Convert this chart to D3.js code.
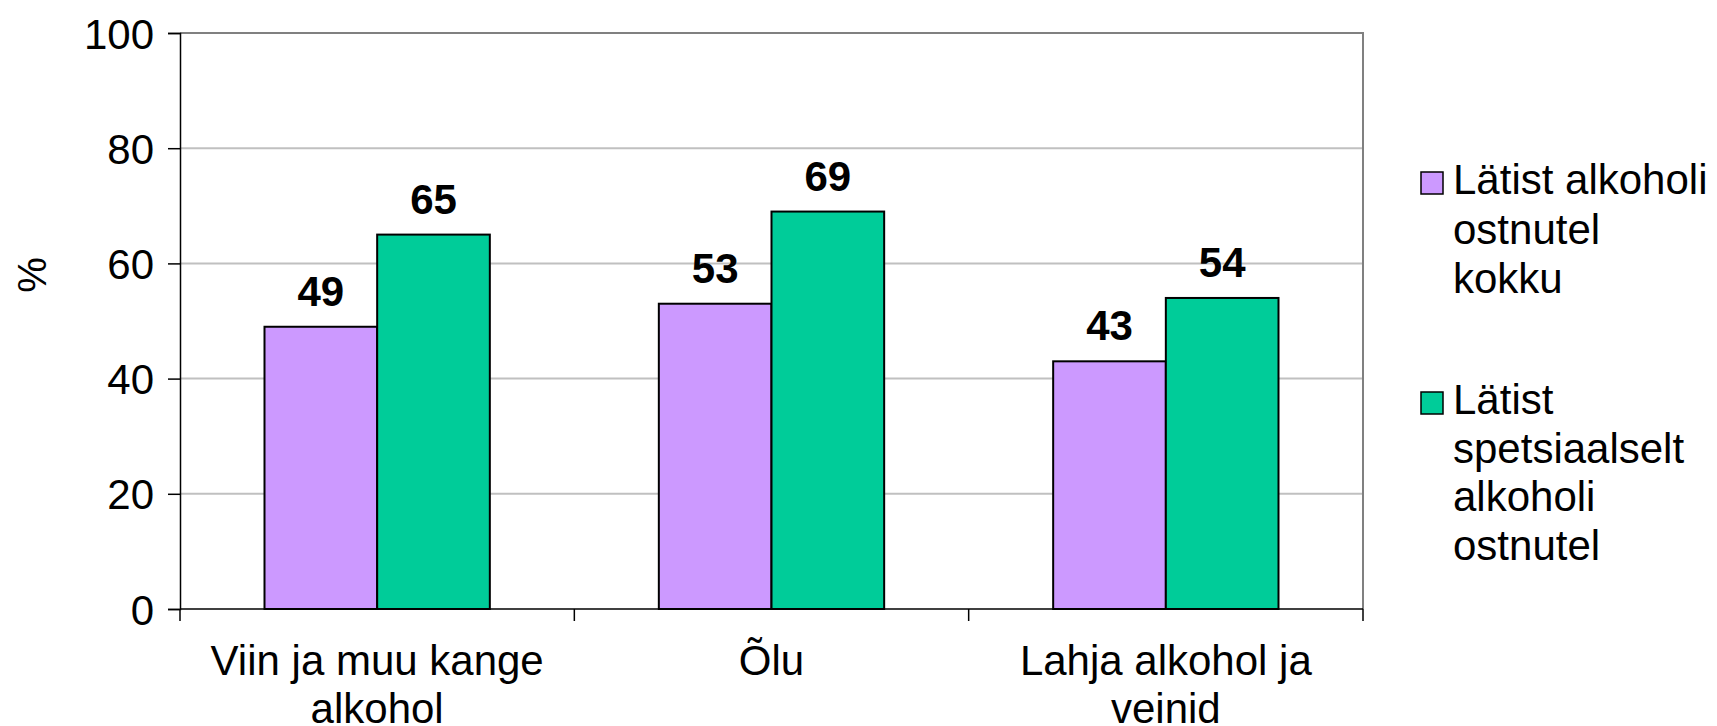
<!DOCTYPE html>
<html>
<head>
<meta charset="utf-8">
<script src="https://cdn.jsdelivr.net/npm/d3@7"></script>
<style>
  html, body { margin: 0; padding: 0; background: #fff; }
  svg { display: block; font-family: "Liberation Sans", Arial, sans-serif; }
</style>
</head>
<body>
<svg id="chart" width="1717" height="726"></svg>
<script>
const categories = [["Viin ja muu kange", "alkohol"], ["Õlu"], ["Lahja alkohol ja", "veinid"]];
const seriesNames = [["Lätist alkoholi", "ostnutel", "kokku"], ["Lätist", "spetsiaalselt", "alkoholi", "ostnutel"]];
const seriesTotal = [49, 53, 43];
const seriesSpecial = [65, 69, 54];
const seriesColors = ["#cc99ff", "#00cc99"];
const yTicks = [0, 20, 40, 60, 80, 100];
const yTitle = "%";

(function () {
const svg = d3.select("#chart");
const plotLeft = 180, plotRight = 1363, plotTop = 33, plotBottom = 609;
const fontSize = 42;

const x = d3.scaleBand().domain(d3.range(categories.length)).range([plotLeft, plotRight]).paddingInner(0).paddingOuter(0);
const y = d3.scaleLinear().domain([0, 100]).range([plotBottom, plotTop]);
const bandW = x.bandwidth();
const barW = bandW / 3.5; // gap width 150%
const x1 = d3.scaleBand().domain([0, 1]).range([0, barW * 2]);

// gridlines
svg.append("g").selectAll("line").data(yTicks.filter(d => d > 0 && d < 100)).join("line")
  .attr("x1", plotLeft).attr("x2", plotRight).attr("y1", d => y(d)).attr("y2", d => y(d))
  .attr("stroke", "#c0c0c0").attr("stroke-width", 2);

// plot border (top & right)
svg.append("path")
  .attr("d", `M${plotLeft},${y(100)}H${plotRight}V${plotBottom}`)
  .attr("fill", "none").attr("stroke", "#808080").attr("stroke-width", 2);

// y axis
const yAxis = d3.axisLeft(y).tickValues(yTicks).tickSize(12).tickPadding(14).tickFormat(d3.format("d"));
const gy = svg.append("g").attr("transform", `translate(${plotLeft},0)`).call(yAxis);
gy.select(".domain").attr("stroke", "#000").attr("stroke-width", 1.5);
gy.selectAll(".tick line").attr("stroke", "#000").attr("stroke-width", 1.5);
gy.selectAll(".tick text").attr("font-size", fontSize).attr("fill", "#000")
  .attr("font-family", "Liberation Sans, Arial, sans-serif").attr("dy", "0.36em");

// bars
const data = categories.map((c, i) => [seriesTotal[i], seriesSpecial[i]]);
const groups = svg.append("g").selectAll("g").data(data).join("g")
  .attr("transform", (d, i) => `translate(${x(i) + (bandW - barW * 2) / 2},0)`);
groups.selectAll("rect").data(d => d.map((v, s) => ({v, s}))).join("rect")
  .attr("x", d => x1(d.s)).attr("width", barW)
  .attr("y", d => y(d.v)).attr("height", d => y(0) - y(d.v))
  .attr("fill", d => seriesColors[d.s]).attr("stroke", "#000").attr("stroke-width", 2);
groups.selectAll("text").data(d => d.map((v, s) => ({v, s}))).join("text")
  .attr("x", d => x1(d.s) + barW / 2).attr("y", d => y(d.v) - 21)
  .attr("text-anchor", "middle").attr("font-size", fontSize).attr("font-weight", "bold")
  .text(d => d.v);

// x axis
svg.append("line").attr("x1", plotLeft).attr("x2", plotRight).attr("y1", plotBottom).attr("y2", plotBottom)
  .attr("stroke", "#000").attr("stroke-width", 1.5);
const boundaries = d3.range(categories.length + 1).map(i => plotLeft + i * bandW);
svg.append("g").selectAll("line").data(boundaries).join("line")
  .attr("x1", d => d).attr("x2", d => d).attr("y1", plotBottom).attr("y2", plotBottom + 12)
  .attr("stroke", "#000").attr("stroke-width", 1.5);
const xl = svg.append("g").selectAll("text").data(categories).join("text")
  .attr("x", (d, i) => x(i) + bandW / 2).attr("y", 675)
  .attr("text-anchor", "middle").attr("font-size", fontSize);
xl.selectAll("tspan").data(d => d).join("tspan")
  .attr("x", function() { return this.parentNode.getAttribute("x"); })
  .attr("dy", (d, i) => i === 0 ? 0 : 48).text(d => d);

// y title
svg.append("text").attr("transform", `translate(46,275) rotate(-90)`)
  .attr("text-anchor", "middle").attr("font-size", 40).text(yTitle);

// legend
const legendTops = [172, 392];
const legendLineH = [49.5, 48.5];
seriesNames.forEach((lines, s) => {
  const g = svg.append("g");
  g.append("rect").attr("x", 1421).attr("y", legendTops[s]).attr("width", 22).attr("height", 22)
    .attr("fill", seriesColors[s]).attr("stroke", "#000").attr("stroke-width", 1.5);
  const t = g.append("text").attr("x", 1453).attr("y", legendTops[s] + 22).attr("font-size", fontSize);
  t.selectAll("tspan").data(lines).join("tspan").attr("x", 1453)
    .attr("dy", (d, i) => i === 0 ? 0 : legendLineH[s]).text(d => d);
});
})();
</script>
</body>
</html>
